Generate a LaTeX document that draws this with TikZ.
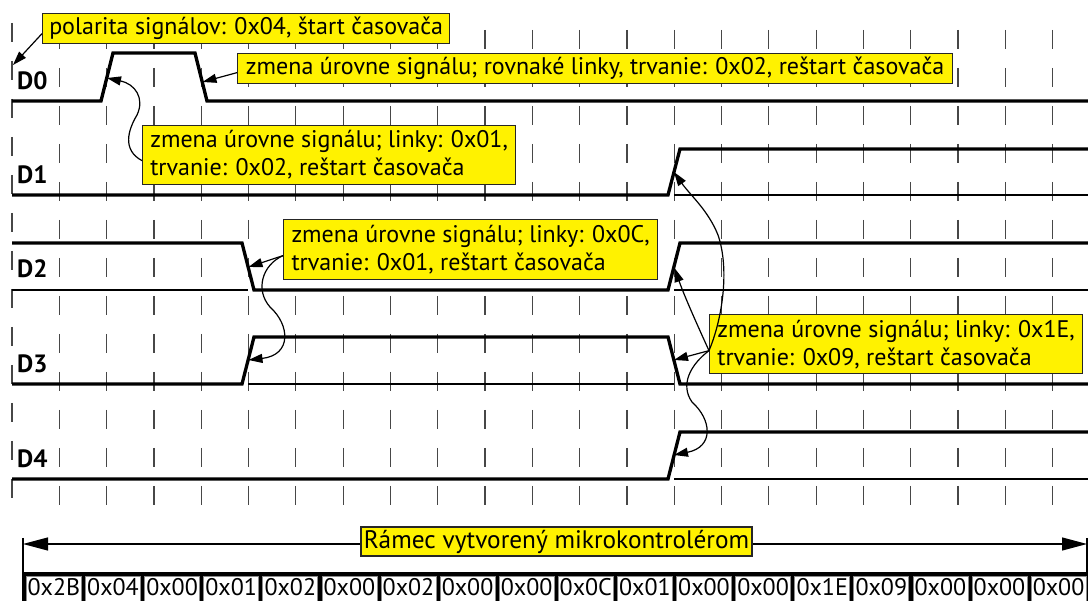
\documentclass[tikz,border=0pt]{standalone}
\usepackage{fontspec}
\setmainfont{PT Sans}
\usetikzlibrary{arrows.meta}
\definecolor{noteyellow}{RGB}{255,242,0}
\begin{document}
\begin{tikzpicture}[x=1pt,y=-1pt,
  gridline/.style={black!72, line width=1.2pt, dash pattern=on 19pt off 19pt},
  sigline/.style={line width=3.3pt, line join=miter},
  refline/.style={line width=1.3pt},
  note/.style={draw=black!85, line width=1.3pt, fill=noteyellow, inner sep=2pt,
    font=\fontsize{24pt}{28pt}\selectfont, align=left, anchor=north west},
  dlab/.style={font=\bfseries\fontsize{25pt}{25pt}\selectfont, anchor=base west, inner sep=0pt},
  ann/.style={line width=1.2pt, -{Triangle[length=14pt,width=9pt]}},
  bytebox/.style={draw=black!45, line width=0.8pt, fill=white, anchor=north west,
    minimum width=55pt, inner xsep=0pt, inner ysep=4pt, text height=15pt, text depth=15pt,
    font=\fontsize{24pt}{24pt}\selectfont},
  framearrow/.style={line width=1.2pt, {Triangle[length=25pt,width=13pt]}-{Triangle[length=25pt,width=13pt]}}
]
\useasboundingbox (0,0) rectangle (1088,601);
\fill[white] (0,0) rectangle (1088,601);

% grid
\draw[gridline] (12,23) -- (12,500);
\foreach \k in {1,...,22} {
  \draw[gridline] ({12+47.3*\k},30) -- ({12+47.3*\k},505);
}

% reference (thin) lines
\draw[refline] (674,195) -- (1088,195);
\draw[refline] (12,290) -- (248,290);
\draw[refline] (674,290) -- (1088,290);
\draw[refline] (248,384) -- (674,384);
\draw[refline] (674,479) -- (1088,479);

% signals
\draw[sigline] (12,101) -- (101,101) -- (113,53) -- (195,53) -- (207,101) -- (1088,101);
\draw[sigline] (12,195) -- (668,195) -- (680,149) -- (1088,149);
\draw[sigline] (12,243) -- (242,243) -- (254,290) -- (668,290) -- (680,243) -- (1088,243);
\draw[sigline] (12,384) -- (242,384) -- (254,337) -- (668,337) -- (680,384) -- (1088,384);
\draw[sigline] (12,479) -- (668,479) -- (680,432) -- (1088,432);

% signal labels
\node[dlab] (d0) at (17,90) {D0};
\node[dlab] (d1) at (17,184) {D1};
\node[dlab] (d2) at (17,278) {D2};
\node[dlab] (d3) at (17,373) {D3};
\node[dlab] (d4) at (17,468) {D4};

% notes
\node[note, minimum width=407pt, minimum height=30pt] (pol) at (42,13) {polarita signálov: 0x04, štart časovača};
\node[note, minimum width=715pt, minimum height=30pt] (nb) at (237,53) {zmena úrovne signálu; rovnaké linky, trvanie: 0x02, reštart časovača};
\node[note, minimum width=373pt, minimum height=59pt] (nc) at (142,125) {zmena úrovne signálu; linky: 0x01,\\trvanie: 0x02, reštart časovača};
\node[note, minimum width=374pt, minimum height=60pt] (nd) at (283,219) {zmena úrovne signálu; linky: 0x0C,\\trvanie: 0x01, reštart časovača};
\node[note, minimum width=373pt, minimum height=59pt] (ne) at (709,314) {zmena úrovne signálu; linky: 0x1E,\\trvanie: 0x09, reštart časovača};

% arrow targets
\coordinate (t0) at (13,65);
\coordinate (tb) at (202.5,82);
\coordinate (tc) at (107,78);
\coordinate (td2) at (248.5,267);
\coordinate (td3) at (248.5,360);
\coordinate (te1) at (674,172);
\coordinate (te2) at (674.5,268);
\coordinate (te3) at (674,360);
\coordinate (te4) at (674,455);

% arrows
\draw[ann] ([yshift=-5pt]pol.west) -- (t0);
\draw[ann] ([yshift=-4pt]nb.west) -- (tb);
\draw[ann] ([yshift=-5.5pt]nc.west) .. controls (122,150) and (128,130) .. (137,115)
  .. controls (145,98) and (135,84) .. (tc);
\draw[ann] ([yshift=-6pt]nd.west) -- (td2);
\draw[ann] ([yshift=-6pt]nd.west) .. controls (262,265) and (255,290) .. (270,307)
  .. controls (290,325) and (292,355) .. (td3);
\draw[ann] ([yshift=-6.5pt]ne.west) .. controls (722,320) and (730,270) .. (718,235)
  .. controls (708,210) and (690,195) .. (te1);
\draw[ann] ([yshift=-6.5pt]ne.west) .. controls (695,320) and (684,295) .. (te2);
\draw[ann] ([yshift=-6.5pt]ne.west) -- (te3);
\draw[ann] ([yshift=-6.5pt]ne.west) .. controls (690,365) and (680,385) .. (692,402)
  .. controls (712,420) and (714,447) .. (te4);

% frame
\coordinate (fl) at (23,544);
\coordinate (fr) at (1087,544);
\draw[framearrow] (fl) -- (fr);
\draw[line width=1.5pt] (23,538) -- (23,572);
\draw[line width=1.5pt] (1087,538) -- (1087,572);
\node[note, anchor=center, minimum width=391pt, minimum height=29pt,
  font=\fontsize{25.3pt}{25pt}\selectfont] (frame) at (556.5,541.5) {Rámec vytvorený mikrokontrolérom};

% bytes
\fill[black] (22,572) rectangle (1088,604);
\foreach \b [count=\i from 0] in {0x2B,0x04,0x00,0x01,0x02,0x00,0x02,0x00,0x00,0x0C,0x01,0x00,0x00,0x1E,0x09,0x00,0x00,0x00} {
  \node[bytebox] (b\i) at ({26+59.1*\i},576) {\b};
}
\end{tikzpicture}
\end{document}
